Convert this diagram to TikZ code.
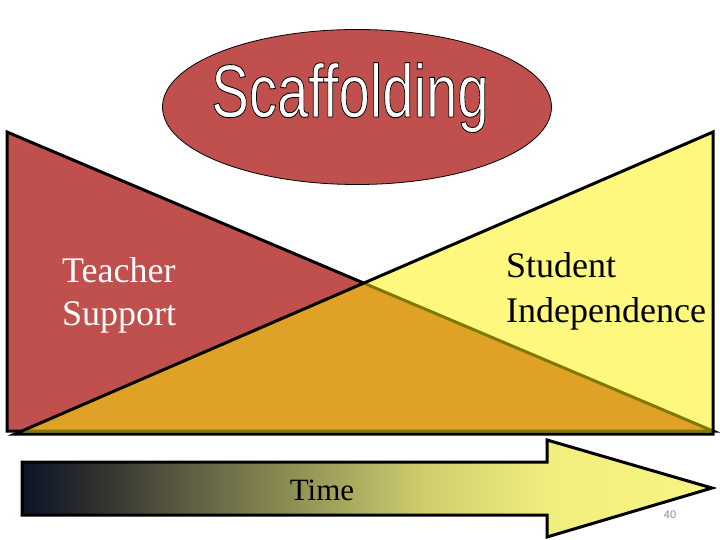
\documentclass[tikz,border=0pt]{standalone}
\usepackage{xcolor}
\usepackage{fontspec}
\usepackage{graphicx}
\usetikzlibrary{shapes.geometric}
\setmainfont{Liberation Serif}
\newfontfamily\headfont{Liberation Sans}
\newcommand{\outlined}[1]{\special{pdf:code q 2 Tr 0.9 w 0 G}#1\special{pdf:code Q}}

\definecolor{scafred}{RGB}{192,80,77}
\definecolor{tA}{RGB}{10,20,40}
\definecolor{tB}{RGB}{45,45,45}
\definecolor{tC}{RGB}{80,80,60}
\definecolor{tD}{RGB}{145,145,85}
\definecolor{tE}{RGB}{205,205,110}
\definecolor{tF}{RGB}{240,238,125}
\definecolor{tG}{RGB}{248,245,130}
\pgfdeclarehorizontalshading{timeshade}{100bp}{color(0bp)=(tA); color(25bp)=(tA); color(30bp)=(tB); color(35bp)=(tC); color(45bp)=(tD); color(54bp)=(tE); color(63bp)=(tF); color(75bp)=(tG); color(100bp)=(tG)}

\begin{document}
\begin{tikzpicture}[x=1pt, y=-1pt]
    \useasboundingbox (0,0) rectangle (720,540);

                % Corners
                \coordinate (tl) at (7,132);
                \coordinate (bl) at (7,431);
                \coordinate (br) at (713,431);
                \coordinate (tr) at (713,132);
                \coordinate (yl) at (15,434);
                \coordinate (yr) at (713,434);

                % Triangles
                \draw[fill=scafred, line width=3pt] (tl) -- (bl) -- (br) -- cycle;
                \draw[fill=yellow, fill opacity=0.5, line width=3pt] (tr) -- (yr) -- (yl) -- cycle;

                % Title
                \node (title) [ellipse, draw, fill=scafred, line width=0.8pt, minimum width=389pt, minimum height=155pt] at (357,107) {};
                \node (word) [anchor=base, inner sep=0, text=white, font=\headfont\fontsize{75}{75}\selectfont] at (350,117) {\scalebox{0.75}[1]{\outlined{Scaffolding}}};

                % Labels
                \node (teacher) [anchor=north west, align=left, inner sep=0, text=white, font=\fontsize{36}{43}\selectfont] at (62,257) {Teacher\\Support};
                \node (student) [anchor=north west, align=left, inner sep=0, font=\fontsize{36}{45}\selectfont] at (506,252) {Student\\Independence};

                % Time arrow
                \shadedraw[shading=timeshade, line width=3pt] (22,462) -- (547,462) -- (547,440) -- (712,488) -- (547,537) -- (547,515) -- (22,515) -- cycle;
                \node (time) [anchor=base, inner sep=0, font=\fontsize{31}{31}\selectfont] at (322,500) {Time};

                % Page number
                \node (page) [anchor=base, inner sep=0, text=black!45, font=\headfont\fontsize{11}{11}\selectfont] at (670,518) {40};

            \end{tikzpicture}
\end{document}
